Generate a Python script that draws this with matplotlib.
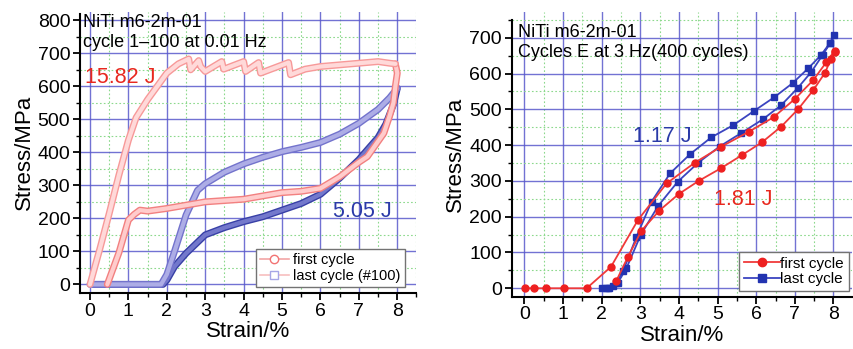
import matplotlib
matplotlib.use("Agg")
import matplotlib.pyplot as plt
import matplotlib.patheffects as pe
from matplotlib.ticker import MultipleLocator
from matplotlib.lines import Line2D

plt.rcParams['font.family'] = ['Liberation Sans', 'DejaVu Sans']

# ---------------- Left panel data (cycle 1-100 at 0.01 Hz) ----------------
first_load_x = [0, 0.25, 0.5, 0.75, 1.0, 1.2, 1.5, 1.75, 2.0, 2.3, 2.57,
                2.62, 2.83, 2.88, 3.0, 3.43, 3.48, 4.0, 4.05, 4.39, 4.44,
                5.17, 5.22, 5.6, 6.0, 6.5, 7.0, 7.5, 7.8, 7.95]
first_load_y = [0, 105, 215, 330, 437, 505, 560, 600, 640, 668, 683,
                650, 678, 660, 645, 675, 652, 675, 645, 672, 640,
                672, 635, 652, 660, 665, 670, 675, 670, 668]
first_unload_x = [7.95, 8.0, 7.95, 7.9, 7.8, 7.65, 7.45, 7.22, 7.0, 6.5,
                  6.0, 5.5, 5.0, 4.5, 4.0, 3.5, 3.0, 2.5, 2.0, 1.5, 1.3,
                  1.15, 1.0, 0.75, 0.45]
first_unload_y = [668, 640, 600, 550, 510, 458, 425, 387, 370, 326,
                  291, 282, 278, 268, 258, 254, 250, 240, 230, 222, 225,
                  212, 195, 95, 0]

last_load_x = [0.0, 1.85, 2.0, 2.2, 2.5, 2.8, 3.0, 3.5, 4.0, 4.5, 5.0,
               5.5, 6.0, 6.5, 7.0, 7.5, 7.8, 8.0]
last_load_y = [0, 0, 30, 100, 210, 285, 305, 340, 365, 385, 402,
               415, 430, 455, 488, 530, 565, 594]
last_unload_x = [8.0, 7.9, 7.7, 7.5, 7.2, 7.0, 6.5, 6.0, 5.5, 5.0, 4.5,
                 4.0, 3.5, 3.0, 2.5, 2.2, 2.0, 1.9, 0.1]
last_unload_y = [594, 545, 485, 445, 405, 378, 322, 273, 245, 225, 205,
                 190, 172, 150, 94, 54, 13, 0, 0]

# ---------------- Right panel data (Cycles E at 3 Hz) ----------------
r_first_x = [0.02, 0.24, 0.57, 1.02, 1.61, 2.24, 2.94, 3.68, 4.41, 5.10,
             5.82, 6.45, 7.0, 7.48, 7.81, 8.03, 8.05, 7.94, 7.78, 7.48,
             7.09, 6.65, 6.15, 5.63, 5.08, 4.51, 3.99, 3.49, 3.03, 2.68,
             2.37]
r_first_y = [0, 0, 0, 0, 0, 60, 191, 293, 351, 396,
             438, 478, 529, 582, 631, 664, 661, 642, 602, 554,
             501, 452, 408, 372, 335, 300, 263, 217, 161, 88,
             19]
r_last_x = [2.02, 2.1, 2.2, 2.29, 2.37, 2.55, 2.90, 3.29, 3.77, 4.29,
            4.84, 5.41, 5.95, 6.47, 6.94, 7.35, 7.68, 7.90, 8.02, 7.91,
            7.72, 7.43, 7.07, 6.65, 6.17, 5.60, 5.05, 4.50, 3.97, 3.46,
            3.01, 2.64, 2.42, 2.16]
r_last_y = [0, 0, 0, 5, 14, 47, 144, 242, 321, 375,
            422, 456, 496, 534, 573, 615, 652, 684, 708, 684,
            652, 605, 559, 512, 472, 433, 396, 351, 298, 230,
            149, 56, 16, 0]

x_ticks = [0, 1, 2, 3, 4, 5, 6, 7, 8]

fig = plt.figure(figsize=(8.54, 3.49), dpi=100)
axL = fig.add_axes([0.0937, 0.1605, 0.394, 0.805])
axR = fig.add_axes([0.5992, 0.1499, 0.398, 0.8157])

major_c = (0.35, 0.35, 0.80)
minor_c = (0.55, 0.85, 0.55)


def style(ax, ylim, ytop_spine, yticks):
    ax.set_axisbelow(True)
    ax.xaxis.set_major_locator(MultipleLocator(1))
    ax.xaxis.set_minor_locator(MultipleLocator(0.5))
    ax.yaxis.set_major_locator(MultipleLocator(100))
    ax.yaxis.set_minor_locator(MultipleLocator(50))
    ax.grid(which='major', color=major_c, lw=1.0, alpha=0.85)
    ax.grid(which='minor', color=minor_c, lw=0.8, ls=(0, (1.5, 2.0)))
    ax.spines['top'].set_visible(False)
    ax.spines['right'].set_visible(False)
    ax.spines['left'].set_linewidth(1.5)
    ax.spines['bottom'].set_linewidth(1.5)
    ax.spines['left'].set_bounds(ylim[0], ytop_spine)
    ax.set_ylim(*ylim)
    ax.set_xticks(x_ticks)
    ax.set_yticks(yticks)
    ax.tick_params(which='major', direction='out', length=5, width=1.3,
                   labelsize=14, pad=2)
    ax.tick_params(which='minor', direction='out', length=3, width=1.0)
    ax.set_xlabel('Strain/%', fontsize=16, labelpad=1)
    ax.set_ylabel('Stress/MPa', fontsize=16, labelpad=2)


# ---------------- Left ----------------
axL.set_xlim(-0.26, 8.5)
style(axL, (-26, 825), 818, list(range(0, 801, 100)))


def thick(ax, x, y, edge, fill, z):
    ax.plot(x, y, color=fill, lw=3.0, solid_capstyle='round', zorder=z,
            path_effects=[pe.Stroke(linewidth=5.0, foreground=edge),
                          pe.Normal()])


thick(axL, last_unload_x, last_unload_y, (0.22, 0.25, 0.65), (0.45, 0.47, 0.80), 3)
thick(axL, last_load_x, last_load_y, (0.45, 0.45, 0.80), (0.68, 0.68, 0.90), 3)
thick(axL, first_unload_x, first_unload_y, (0.95, 0.50, 0.50), (1.0, 0.80, 0.80), 4)
thick(axL, first_load_x, first_load_y, (0.97, 0.60, 0.60), (1.0, 0.85, 0.85), 4)

axL.text(-0.19, 818, 'NiTi m6-2m-01\ncycle 1\u2013100 at 0.01 Hz', fontsize=13,
         va='top', ha='left', linespacing=1.2)
axL.text(-0.12, 628, '15.82 J', color='#e8281e', fontsize=15.5, va='center')
axL.text(6.33, 220, '5.05 J', color='#2a3aa8', fontsize=15.5, va='center')

hL = [Line2D([], [], color=(0.95, 0.65, 0.65), lw=1.2, marker='o', ms=6,
             mfc='white', mec=(0.95, 0.45, 0.45)),
      Line2D([], [], color=(0.97, 0.75, 0.75), lw=1.2, marker='s', ms=6,
             mfc='white', mec=(0.65, 0.65, 0.90))]
legL = axL.legend(hL, ['first cycle', 'last cycle (#100)'], loc='lower right',
                  bbox_to_anchor=(0.975, 0.01), fontsize=10.5, frameon=True,
                  fancybox=False, framealpha=1, edgecolor='0.45',
                  handlelength=2.0, handletextpad=0.3, borderpad=0.3,
                  labelspacing=0.1, borderaxespad=0.2)
legL.get_frame().set_linewidth(1.0)

# ---------------- Right ----------------
axR.set_xlim(-0.33, 8.47)
style(axR, (-23.5, 772), 750, list(range(0, 701, 100)))

axR.plot(r_first_x, r_first_y, color='#f03a3a', lw=1.3, marker='o', ms=5,
         mfc='#ee2020', mec='#ee2020', zorder=4)
axR.plot(r_last_x, r_last_y, color='#3b44c0', lw=1.3, marker='s', ms=5,
         mfc='#2233b0', mec='#2233b0', zorder=3)

axR.text(-0.18, 738, 'NiTi m6-2m-01\nCycles E at 3 Hz(400 cycles)', fontsize=13,
         va='top', ha='left', linespacing=1.25)
axR.text(2.8, 425, '1.17 J', color='#2a3aa8', fontsize=15.5, va='center')
axR.text(4.92, 249, '1.81 J', color='#e8281e', fontsize=15.5, va='center')

hR = [Line2D([], [], color='#f03a3a', lw=1.3, marker='o', ms=6,
             mfc='#ee2020', mec='#ee2020'),
      Line2D([], [], color='#3b44c0', lw=1.3, marker='s', ms=6,
             mfc='#2233b0', mec='#2233b0')]
legR = axR.legend(hR, ['first cycle', 'last cycle'], loc='lower right',
                  bbox_to_anchor=(1.0, 0.01), fontsize=11, frameon=True,
                  fancybox=False, framealpha=1, edgecolor='0.45',
                  handlelength=2.4, handletextpad=0.0, borderpad=0.3,
                  labelspacing=0.1, borderaxespad=0.2)
legR.get_frame().set_linewidth(1.0)

fig.savefig('out.png', dpi=100)
